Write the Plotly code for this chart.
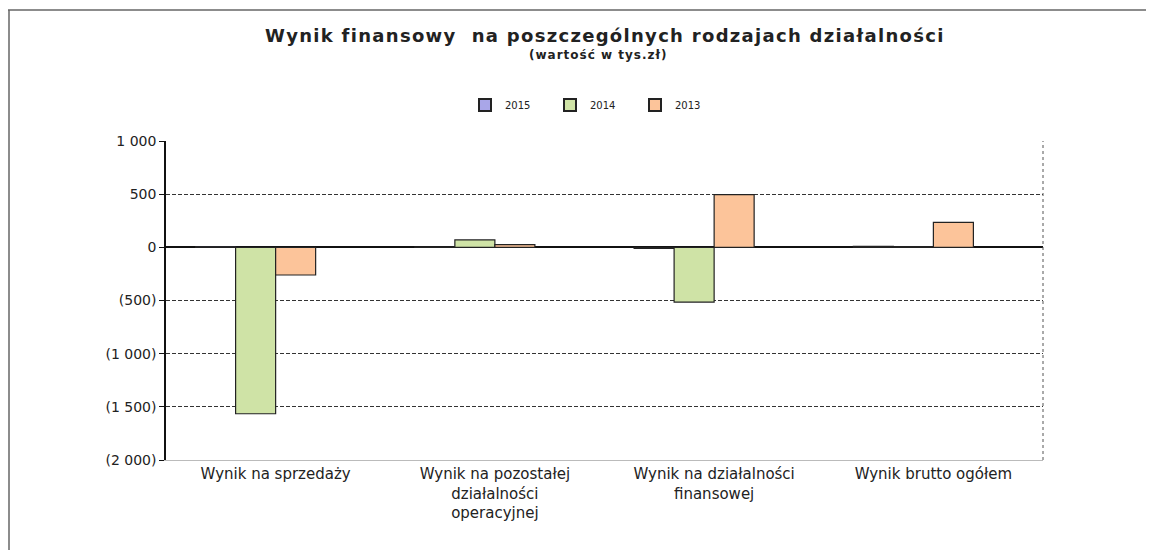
import plotly.graph_objects as go

categories = [
    "Wynik na sprzedaży",
    "Wynik na pozostałej<br>działalności<br>operacyjnej",
    "Wynik na działalności<br>finansowej",
    "Wynik brutto ogółem",
]
years = ["2015", "2014", "2013"]
values_2015 = [5, 4, -10, 10]
values_2014 = [-1565, 70, -515, 8]
values_2013 = [-260, 25, 495, 235]
values_hidden = [0, 0, 0, 0]

tick_vals = [1000, 500, 0, -500, -1000, -1500, -2000]
tick_text = ["1 000", "500", "0", "(500)", "(1 000)", "(1 500)", "(2 000)"]

title_text = "Wynik finansowy  na poszczególnych rodzajach działalności"
subtitle_text = "(wartość w tys.zł)"

colors = {"2015": "#a9a6e8", "2014": "#cfe3a6", "2013": "#fcc49a"}

W, H = 1154, 550
OFF = 8  # default page body margin
PL, PT, PW, PH = 166, 141, 877, 319   # plot area in page pixels
L, T = PL - OFF, PT - OFF
R = W - L - PW
B = H - T - PH

FONT = "DejaVu Sans, Liberation Sans, Arial, sans-serif"

fig = go.Figure()
for name, vals in zip(years, [values_2015, values_2014, values_2013]):
    fig.add_trace(go.Bar(
        x=categories, y=vals, name=name,
        marker=dict(color=colors[name], line=dict(color="#222222", width=1.2)),
    ))
fig.add_trace(go.Bar(x=categories, y=values_hidden, name="", showlegend=False,
                     marker=dict(color="rgba(0,0,0,0)", line=dict(width=0)),
                     hoverinfo="skip"))


def px_x(px):
    return (px - PL) / PW


def px_y(py):
    return (PT + PH - py) / PH


fig.update_layout(
    width=W, height=H,
    margin=dict(l=L, r=R, t=T, b=B, autoexpand=False),
    paper_bgcolor="white", plot_bgcolor="white",
    barmode="group", bargap=0.27, bargroupgap=0,
    font=dict(family=FONT, color="#222222"),
    showlegend=True,
    legend=dict(
        orientation="h", x=px_x(465), xanchor="left", y=px_y(105), yanchor="middle",
        font=dict(size=10), entrywidth=40, entrywidthmode="pixels",
        traceorder="normal", itemsizing="constant",
    ),
    xaxis=dict(
        showgrid=False, showline=True, linecolor="#bbbbbb", linewidth=1,
        ticks="", tickfont=dict(size=15),
    ),
    yaxis=dict(
        range=[-2000, 1000], tickvals=tick_vals, ticktext=tick_text,
        tickfont=dict(size=14), showgrid=True, gridcolor="#333333", gridwidth=1,
        griddash="4px,2px", zeroline=True, zerolinecolor="#111111", zerolinewidth=1.5,
        showline=True, linecolor="#111111", linewidth=1.5, ticks="outside",
        ticklen=5, tickcolor="#111111",
    ),
    annotations=[
        dict(text="<span style='letter-spacing:1.3px'><b>" + title_text + "</b></span>",
             xref="paper", yref="paper",
             x=px_x(605), y=px_y(35), xanchor="center", yanchor="middle",
             showarrow=False, font=dict(size=18, family=FONT, color="#222222")),
        dict(text="<span style='letter-spacing:1px'><b>" + subtitle_text + "</b></span>",
             xref="paper", yref="paper",
             x=px_x(598), y=px_y(55), xanchor="center", yanchor="middle",
             showarrow=False, font=dict(size=12, family=FONT, color="#222222")),
    ],
)

# right edge of plot area (dotted)
fig.add_shape(type="line", xref="paper", yref="paper", x0=1, x1=1, y0=0, y1=1,
              line=dict(color="#555555", width=1, dash="dot"))
# outer chart frame: top and left edges
fig.add_shape(type="line", xref="paper", yref="paper",
              x0=px_x(8), x1=px_x(W + 5), y0=px_y(10), y1=px_y(10),
              line=dict(color="#666666", width=1.5), layer="below")
fig.add_shape(type="line", xref="paper", yref="paper",
              x0=px_x(9), x1=px_x(9), y0=px_y(10), y1=px_y(H + 5),
              line=dict(color="#666666", width=1.5), layer="below")

fig.write_html("out.html")
